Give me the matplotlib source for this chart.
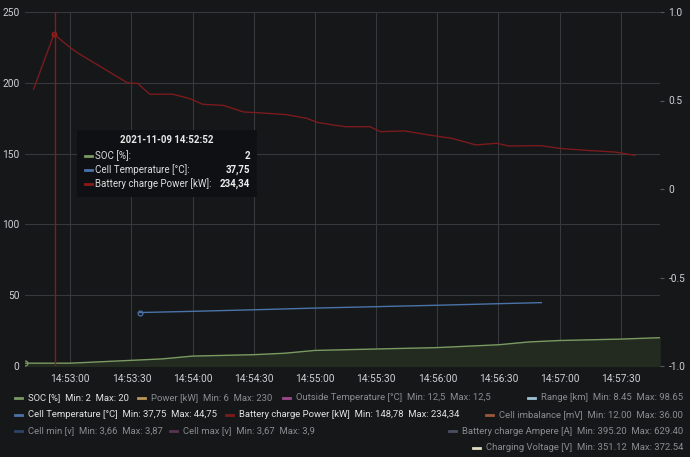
import pandas as pd
import matplotlib
matplotlib.use('Agg')
import matplotlib.pyplot as plt
import matplotlib.dates as mdates
from matplotlib.patches import Rectangle
from matplotlib.lines import Line2D

plt.rcParams['font.family'] = ['Roboto', 'DejaVu Sans']

DAY = '2021-11-09 '

# Battery charge Power [kW]
power_times = ['14:52:42', '14:52:52', '14:53:00', '14:53:04', '14:53:28', '14:53:33',
               '14:53:39', '14:53:50', '14:53:55', '14:53:59', '14:54:05', '14:54:15',
               '14:54:25', '14:54:34', '14:54:46', '14:54:56', '14:55:01', '14:55:09',
               '14:55:15', '14:55:27', '14:55:32', '14:55:44', '14:55:56', '14:56:07',
               '14:56:19', '14:56:29', '14:56:35', '14:56:51', '14:57:00', '14:57:13',
               '14:57:27', '14:57:37']
power_vals = [195.4, 234.34, 224.8, 220.8, 200.0, 199.6,
              191.9, 192.0, 190.2, 188.6, 184.8, 184.1,
              179.4, 178.7, 177.5, 174.9, 172.1, 170.2,
              169.0, 169.0, 165.5, 166.0, 163.1, 160.8,
              156.1, 157.3, 155.4, 155.6, 153.7, 152.3,
              151.1, 148.78]

# Cell Temperature [°C]
temp_times = ['14:53:34', '14:54:00', '14:54:30', '14:55:00', '14:55:30', '14:56:00',
              '14:56:30', '14:56:51']
temp_vals = [37.75, 38.6, 39.7, 40.9, 41.9, 42.9, 44.0, 44.75]

# SOC [%]
soc_times = ['14:52:38', '14:53:00', '14:53:30', '14:53:45', '14:54:00', '14:54:30',
             '14:54:45', '14:55:00', '14:55:30', '14:56:00', '14:56:30', '14:56:45',
             '14:57:00', '14:57:30', '14:57:49']
soc_vals = [2, 2, 4, 5, 7, 8, 9, 11, 12, 13, 15, 17, 18, 19, 20]

hover_time = '14:52:52.5'

left_ticks = [0, 50, 100, 150, 200, 250]
right_ticks = [-1.0, -0.5, 0, 0.5, 1.0]
right_labels = ['-1.0', '-0.5', '0', '0.5', '1.0']

# legend rows: (label, stats, color, active)
legend_left = [
    [('SOC [%]', 'Min: 2  Max: 20', '#7a9a62', True),
     ('Power [kW]', 'Min: 6  Max: 230', '#b8985a', False),
     ('Outside Temperature [°C]', 'Min: 12,5  Max: 12,5', '#9a4a8a', False)],
    [('Cell Temperature [°C]', 'Min: 37,75  Max: 44,75', '#4a73a8', True),
     ('Battery charge Power [kW]', 'Min: 148,78  Max: 234,34', '#7e1a1a', True)],
    [('Cell min [v]', 'Min: 3,66  Max: 3,87', '#2c4466', False),
     ('Cell max [v]', 'Min: 3,67  Max: 3,9', '#5a3452', False)],
]
legend_right = [
    ('Range [km]', 'Min: 8.45  Max: 98.65', '#9cc3d6', False),
    ('Cell imbalance [mV]', 'Min: 12.00  Max: 36.00', '#9a5a3a', False),
    ('Battery charge Ampere [A]', 'Min: 395.20  Max: 629.40', '#4a4e62', False),
    ('Charging Voltage [V]', 'Min: 351.12  Max: 372.54', '#e0dcc0', False),
]

tooltip_rows = [('SOC [%]:', '2', '#7a9a62'),
                ('Cell Temperature [°C]:', '37,75', '#4a73a8'),
                ('Battery charge Power [kW]:', '234,34', '#8b1a1a')]

BG = '#161719'
GRID = '#37383d'
RED = '#7a1b1d'
W, H = 690, 457


def to_dt(ts):
    return pd.to_datetime([DAY + t for t in ts])


def px(x, y):
    return x / W, 1 - y / H


fig = plt.figure(figsize=(W / 100, H / 100), dpi=100, facecolor=BG)
ax = fig.add_axes([25 / W, 1 - 366 / H, 635 / W, 354 / H], facecolor=BG)
ax2 = ax.twinx()

ax.fill_between(to_dt(soc_times), soc_vals, 0, color='#232b21', zorder=1)
ax.plot(to_dt(soc_times), soc_vals, color='#7a9a62', lw=1.0, zorder=3)
ax.plot(to_dt(soc_times[:1]), soc_vals[:1], 'o', ms=3.5, mfc='none', mec='#7a9a62', mew=0.9, zorder=4)

ax.plot(to_dt(temp_times), temp_vals, color='#4a73a8', lw=1.0, zorder=3)
ax.plot(to_dt(temp_times[:1]), temp_vals[:1], 'o', ms=3.5, mfc='none', mec='#4a73a8', mew=0.9, zorder=4)

ax.plot(to_dt(power_times), power_vals, color=RED, lw=1.0, zorder=3)
ax.plot(to_dt(power_times[1:2]), power_vals[1:2], 'o', ms=3.2, mfc='none', mec='#9a1e1e', mew=0.9, zorder=4)

ax.axvline(pd.to_datetime(DAY + hover_time), color='#861c1c', lw=1.0, zorder=5)

ax.set_xlim(pd.to_datetime(DAY + '14:52:37.8'), pd.to_datetime(DAY + '14:57:49.2'))
ax.set_ylim(0, 250)
ax.set_yticks(left_ticks)
ax.xaxis.set_major_locator(mdates.SecondLocator(bysecond=[0, 30]))
ax.xaxis.set_major_formatter(mdates.DateFormatter('%H:%M:%S'))
ax.grid(True, color=GRID, lw=0.8)
ax.set_axisbelow(True)

ax2.set_ylim(-1, 1)
ax2.set_yticks(right_ticks)
ax2.set_yticklabels(right_labels)

for a in (ax, ax2):
    for s in a.spines.values():
        s.set_visible(False)
    a.tick_params(colors='#cfd0d3', labelsize=7.3, length=0, pad=4)
ax2.tick_params(axis='y', length=3, color='#55565b', pad=3)
ax.tick_params(axis='x', pad=6)

# tooltip
fig.patches.append(Rectangle(px(77, 197), 180 / W, 67 / H, transform=fig.transFigure,
                             facecolor='#0f1013', edgecolor='none', zorder=10))
fig.text(*px(167, 140), '2021-11-09 14:52:52', ha='center', va='center', color='#e8e8e8',
         fontsize=7, fontweight='bold', zorder=11)
for i, (lab, val, c) in enumerate(tooltip_rows):
    y = 156 + i * 14
    fig.lines.append(Line2D([85 / W, 92 / W], [1 - y / H] * 2, transform=fig.transFigure,
                            color=c, lw=2, zorder=11))
    fig.text(*px(95, y), lab, ha='left', va='center', color='#dcdcdc', fontsize=7, zorder=11)
    fig.text(*px(250, y), val, ha='right', va='center', color='#ececec', fontsize=7,
             fontweight='bold', zorder=11)

# legend
LFS = 6.8
row_y = [398, 414.5, 431, 448]
col_x = [[15, 138, 283], [15, 226], [15, 170]]
for r, items in enumerate(legend_left):
    for (lab, stats, c, active), x in zip(items, col_x[r]):
        tc = '#e2e2e2' if active else '#8b8c90'
        fig.lines.append(Line2D([x / W, (x + 7) / W], [1 - row_y[r] / H] * 2,
                                transform=fig.transFigure, color=c, lw=2))
        fig.text(*px(x + 13, row_y[r]), lab + '  ' + stats, ha='left', va='center',
                 color=tc, fontsize=LFS)

fig.canvas.draw()
renderer = fig.canvas.get_renderer()
for r, (lab, stats, c, active) in enumerate(legend_right):
    t = fig.text(*px(683, row_y[r]), lab + '  ' + stats, ha='right', va='center',
                 color='#8b8c90', fontsize=LFS)
    bb = t.get_window_extent(renderer)
    x0 = bb.x0
    fig.lines.append(Line2D([(x0 - 13) / W, (x0 - 6) / W], [1 - row_y[r] / H] * 2,
                            transform=fig.transFigure, color=c, lw=2))

fig.savefig('out.png', dpi=100, facecolor=BG)
